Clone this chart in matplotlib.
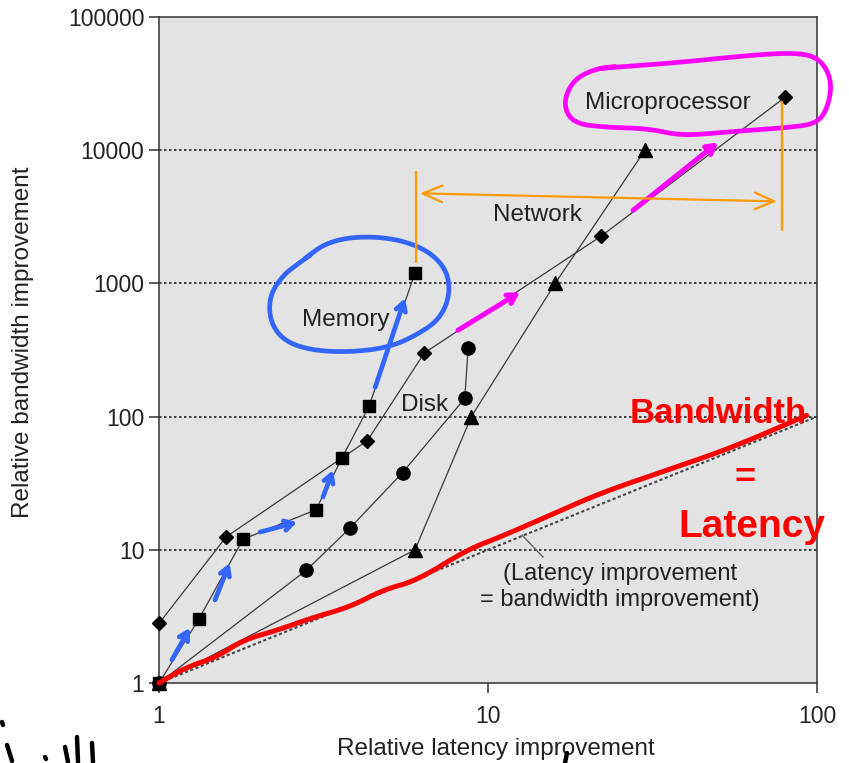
import matplotlib
matplotlib.use("Agg")
import matplotlib.pyplot as plt
from matplotlib.lines import Line2D
import numpy as np

plt.rcParams["font.family"] = ["Liberation Sans", "DejaVu Sans"]

# Relative latency / bandwidth improvement
MICRO_LAT = [1.0, 1.6, 4.3, 6.4, 22, 80]
MICRO_BW = [2.8, 12.5, 66, 300, 2250, 25000]
MEM_LAT = [1.0, 1.32, 1.8, 3.0, 3.6, 4.35, 6.0]
MEM_BW = [1.0, 3.0, 12, 20, 49, 120, 1200]
DISK_LAT = [1.0, 2.8, 3.8, 5.5, 8.5, 8.7]
DISK_BW = [1.0, 7.0, 14.5, 38, 137, 325]
NET_LAT = [1.0, 6.0, 8.9, 16, 30]
NET_BW = [1.0, 10, 100, 1000, 10000]

X_TICKS = [1, 10, 100]
Y_TICKS = [1, 10, 100, 1000, 10000, 100000]
GRID_Y = [10, 100, 1000, 10000]

# hand-drawn ink on top of the figure (data coordinates)
RED_LAT = [1.0, 1.2, 1.5, 1.8, 2.3, 2.9, 3.8, 4.8, 6.1, 8.6, 10.9, 15, 21.9, 35, 55.6, 93]
RED_BW = [1.0, 1.3, 1.57, 2.1, 2.5, 3.07, 3.72, 5.0, 5.9, 9.95, 12.5, 17.6, 26.6, 39.6, 58.9, 102]

BLUE_LOOP_LAT = [2.78, 3.20, 3.94, 5.22, 6.57, 7.51, 7.66, 7.15, 6.21, 5.04, 3.81, 2.88, 2.38, 2.17, 2.17, 2.38, 2.68, 2.88]
BLUE_LOOP_BW = [1542, 2000, 2256, 2178, 1771, 1254, 814, 547, 422, 332, 304, 315, 374, 528, 814, 1150, 1439, 1625]
BLUE_ARROWS = [((1.095, 1.49), (1.24, 2.59)),
               ((1.48, 4.2), (1.64, 7.95)),
               ((2.03, 13.6), (2.63, 16.1)),
               ((3.15, 24.9), (3.38, 39.6)),
               ((4.54, 166), (5.59, 773))]

MAG_LOOP_LAT = [21.9, 38.3, 61.3, 86.9, 102.1, 111.1, 108.0, 100, 82.8, 61.3, 48.3, 38.3, 30.4, 23.0, 18.1, 16.9, 18.1, 20.9, 24.3]
MAG_LOOP_BW = [41100, 45570, 51430, 54150, 48830, 33390, 20950, 15890, 14830, 14080, 13370, 12910, 14580, 14830, 15890, 22450, 33390, 40390, 42540]
MAG_ARROWS = [((8.11, 445), (12.5, 858)),
              ((27.6, 3535), (50.0, 11440))]

ORANGE_LEFT = ((6.04, 6.04), (1439, 6815))
ORANGE_RIGHT = ((78.3, 78.3), (2502, 22840))
ORANGE_SPAN = ((6.21, 4742), (75.6, 4128))

# scribbles below the axes, in figure pixels (x, y from top)
SCRIBBLES = [((2, 722), (3, 725)), ((7, 745), (12, 761)), ((45, 757), (46, 759)),
             ((65, 747), (68, 762)), ((77, 737), (78, 762)), ((92, 743), (93, 762)),
             ((567, 753), (565, 763))]

W, H = 849, 763
BLUE = "#3366ff"
MAGENTA = "#ff00ff"
ORANGE = "#ff9900"
RED = "#ff0000"
LINE = "#3a3a3a"


def chaikin(xs, ys, n=3):
    """Round off a hand-drawn polyline (done in log space)."""
    pts = np.column_stack([np.log10(xs), np.log10(ys)])
    for _ in range(n):
        q = 0.75 * pts[:-1] + 0.25 * pts[1:]
        r = 0.25 * pts[:-1] + 0.75 * pts[1:]
        mid = np.empty((2 * len(q), 2))
        mid[0::2], mid[1::2] = q, r
        pts = np.vstack([pts[:1], mid, pts[-1:]])
    return 10 ** pts[:, 0], 10 ** pts[:, 1]


fig = plt.figure(figsize=(W / 100, H / 100), dpi=100)
ax = fig.add_axes([159 / W, 1 - 683 / H, 658 / W, 666 / H])
ax.set_facecolor("#e3e3e3")
ax.set_xscale("log")
ax.set_yscale("log")
ax.set_xlim(1, 100)
ax.set_ylim(1, 100000)

for g in GRID_Y:
    ax.axhline(g, color="#222222", linestyle=(0, (1.5, 1.5)), linewidth=1.2, zorder=1)
ax.plot([1, 100], [1, 100], color="#444444", linestyle=(0, (1.5, 1.2)), linewidth=1.5, zorder=1)

series = [(MICRO_LAT, MICRO_BW, "D", 6.8),
          (MEM_LAT, MEM_BW, "s", 8.5),
          (DISK_LAT, DISK_BW, "o", 9.5),
          (NET_LAT, NET_BW, "^", 10)]
for xs, ys, m, ms in series:
    ax.plot(xs, ys, color=LINE, linewidth=0.9, zorder=3)
    ax.plot(xs, ys, linestyle="none", marker=m, markersize=ms,
            color="black", zorder=4, clip_on=False)

lbl = dict(fontsize=17.5, color="#222222", ha="center", va="center", zorder=4)
ax.text(3.70, 529, "Memory", **lbl)
ax.text(6.43, 122, "Disk", **lbl)
ax.text(14.1, 3243, "Network", **lbl)
ax.text(35.3, 22440, "Microprocessor", **lbl)
ax.text(25.2, 5.25, "(Latency improvement\n= bandwidth improvement)",
        fontsize=17, color="#222222", ha="center", va="center",
        linespacing=1.25, zorder=4)
ax.plot([12.69, 14.7], [12.89, 8.82], color="#555555", linewidth=0.9, zorder=3)

for sp in ax.spines.values():
    sp.set_color("#333333")
    sp.set_linewidth(1.1)
ax.set_xticks(X_TICKS)
ax.set_xticklabels([str(t) for t in X_TICKS])
ax.set_yticks(Y_TICKS)
ax.set_yticklabels([str(t) for t in Y_TICKS])
ax.minorticks_off()
ax.tick_params(axis="x", length=7.5, width=1.1, pad=8, labelsize=16.5,
               color="#333333", labelcolor="#222222")
ax.tick_params(axis="y", length=7.5, width=1.1, pad=3, labelsize=16.5,
               color="#333333", labelcolor="#222222")
ax.set_xlabel("Relative latency improvement", fontsize=17.5, color="#222222")
ax.set_ylabel("Relative bandwidth improvement", fontsize=17.5, color="#222222")
ax.xaxis.set_label_coords(0.512, -0.082)
ax.yaxis.set_label_coords(-0.19, 0.512)

# ---- ink annotations
ink = dict(solid_capstyle="round", solid_joinstyle="round", clip_on=False, zorder=6)
rx, ry = chaikin(RED_LAT, RED_BW, 2)
ax.plot(rx, ry, color=RED, linewidth=3.6, **ink)

bx, by = chaikin(BLUE_LOOP_LAT, BLUE_LOOP_BW, 3)
ax.plot(bx, by, color=BLUE, linewidth=3.4, **ink)
for start, end in BLUE_ARROWS:
    ax.annotate("", xy=end, xytext=start, annotation_clip=False, zorder=6,
                arrowprops=dict(arrowstyle="->,head_length=0.6,head_width=0.35",
                                color=BLUE, lw=3.4, shrinkA=0, shrinkB=0,
                                capstyle="round", joinstyle="round"))

mx, my = chaikin(MAG_LOOP_LAT, MAG_LOOP_BW, 3)
ax.plot(mx, my, color=MAGENTA, linewidth=3.4, **ink)
for start, end in MAG_ARROWS:
    ax.annotate("", xy=end, xytext=start, annotation_clip=False, zorder=6,
                arrowprops=dict(arrowstyle="->,head_length=0.6,head_width=0.35",
                                color=MAGENTA, lw=3.6, shrinkA=0, shrinkB=0,
                                capstyle="round", joinstyle="round"))

ax.plot(*ORANGE_LEFT, color=ORANGE, linewidth=1.6, **ink)
ax.plot(*ORANGE_RIGHT, color=ORANGE, linewidth=1.6, **ink)
ax.annotate("", xy=ORANGE_SPAN[1], xytext=ORANGE_SPAN[0], annotation_clip=False,
            zorder=6,
            arrowprops=dict(arrowstyle="<->,head_length=1.4,head_width=0.6",
                            color=ORANGE, lw=1.6, shrinkA=0, shrinkB=0))

hand = dict(color=RED, fontweight="bold", zorder=7, ha="center",
            family=["Liberation Sans Narrow", "Liberation Sans", "DejaVu Sans"])
ax.text(50.0, 89.2, "Bandwidth", fontsize=25, va="baseline", **hand)
ax.text(60.4, 34.5, "=", fontsize=26, va="center", **hand)
ax.text(63.5, 12.45, "Latency", fontsize=28, va="baseline", **hand)

for (x0, y0), (x1, y1) in SCRIBBLES:
    fig.add_artist(Line2D([x0 / W, x1 / W], [1 - y0 / H, 1 - y1 / H],
                          transform=fig.transFigure, color="black",
                          linewidth=3.2, solid_capstyle="round"))

fig.savefig("out.png", dpi=100)
